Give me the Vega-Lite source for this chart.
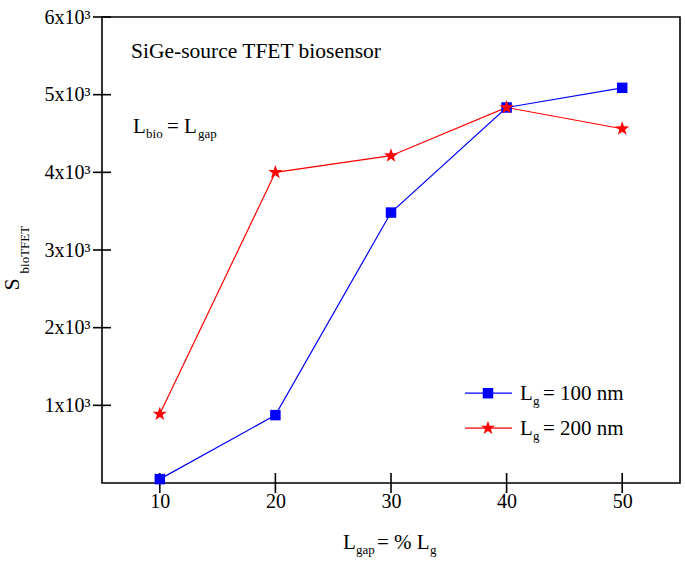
{
  "$schema": "https://vega.github.io/schema/vega-lite/v6.json",
  "width": 578,
  "height": 466,
  "autosize": {"type": "none"},
  "padding": {"left": 102, "top": 17, "right": 5, "bottom": 81},
  "background": "white",
  "config": {
    "view": {"stroke": "#000000", "strokeWidth": 1.6},
    "font": "Liberation Serif, Times New Roman, Times, serif",
    "text": {"font": "Liberation Serif, Times New Roman, Times, serif", "color": "#000000"}
  },
  "datasets": {
    "dSeries": [
      {"series": "Lg = 100 nm", "x": 10, "y": 50},
      {"series": "Lg = 100 nm", "x": 20, "y": 874},
      {"series": "Lg = 100 nm", "x": 30, "y": 3482},
      {"series": "Lg = 100 nm", "x": 40, "y": 4835},
      {"series": "Lg = 100 nm", "x": 50, "y": 5088},
      {"series": "Lg = 200 nm", "x": 10, "y": 887},
      {"series": "Lg = 200 nm", "x": 20, "y": 4000},
      {"series": "Lg = 200 nm", "x": 30, "y": 4214},
      {"series": "Lg = 200 nm", "x": 40, "y": 4835},
      {"series": "Lg = 200 nm", "x": 50, "y": 4561}
    ],
    "dKey": [
      {"series": "Lg = 100 nm", "x": 36.4, "x2": 40.47, "xm": 38.39, "y": 1156},
      {"series": "Lg = 200 nm", "x": 36.4, "x2": 40.47, "xm": 38.39, "y": 707}
    ],
    "dXTicks": [
      {"x": 10, "y": 0}, {"x": 20, "y": 0}, {"x": 30, "y": 0}, {"x": 40, "y": 0}, {"x": 50, "y": 0}
    ],
    "dYTicks": [
      {"x": 5, "y": 1000}, {"x": 5, "y": 2000}, {"x": 5, "y": 3000},
      {"x": 5, "y": 4000}, {"x": 5, "y": 5000}, {"x": 5, "y": 6000}
    ],
    "dText": [
      {"role": "title", "text": "SiGe-source TFET biosensor", "x": 7.51, "y": 5474},
      {"role": "main", "text": "L", "x": 7.68, "y": 4510},
      {"role": "sub", "text": "bio", "x": 8.81, "y": 4510},
      {"role": "main", "text": "= L", "x": 10.62, "y": 4510},
      {"role": "sub", "text": "gap", "x": 13.3, "y": 4510},
      {"role": "main", "text": "L", "x": 25.85, "y": -848},
      {"role": "sub", "text": "gap", "x": 26.98, "y": -848},
      {"role": "main", "text": "= % L", "x": 28.79, "y": -848},
      {"role": "sub", "text": "g", "x": 33.38, "y": -848},
      {"role": "main", "text": "L", "x": 41.16, "y": 1066},
      {"role": "sub", "text": "g", "x": 42.29, "y": 1066},
      {"role": "main", "text": "= 100 nm", "x": 43.15, "y": 1066},
      {"role": "main", "text": "L", "x": 41.16, "y": 617},
      {"role": "sub", "text": "g", "x": 42.29, "y": 617},
      {"role": "main", "text": "= 200 nm", "x": 43.15, "y": 617},
      {"role": "ymain", "text": "S", "x": -2.18, "y": 2480},
      {"role": "ysub", "text": "bioTFET", "x": -1.31, "y": 2698}
    ]
  },
  "layer": [
    {
      "data": {"name": "dSeries"},
      "mark": {"type": "line", "strokeWidth": 1.2},
      "encoding": {
        "x": {
          "field": "x",
          "type": "quantitative",
          "scale": {"domain": [5, 55], "nice": false, "zero": false},
          "axis": {
            "values": [10, 20, 30, 40, 50],
            "title": null,
            "grid": false,
            "domain": false,
            "ticks": false,
            "labelFont": "Liberation Serif, Times New Roman, Times, serif",
            "labelFontSize": 20,
            "labelColor": "#000000",
            "labelPadding": 8
          }
        },
        "y": {
          "field": "y",
          "type": "quantitative",
          "scale": {"domain": [0, 6000], "nice": false, "zero": false},
          "axis": {
            "values": [1000, 2000, 3000, 4000, 5000, 6000],
            "labelExpr": "(datum.value / 1000) + 'x10³'",
            "title": null,
            "grid": false,
            "domain": false,
            "ticks": false,
            "labelFont": "Liberation Serif, Times New Roman, Times, serif",
            "labelFontSize": 20,
            "labelColor": "#000000",
            "labelPadding": 12
          }
        },
        "color": {
          "field": "series",
          "type": "nominal",
          "scale": {"domain": ["Lg = 100 nm", "Lg = 200 nm"], "range": ["#0000ff", "#ff0000"]},
          "legend": null
        }
      }
    },
    {
      "data": {"name": "dXTicks"},
      "mark": {"type": "rule", "strokeWidth": 1.6, "color": "#000000", "yOffset": -10, "y2Offset": 10},
      "encoding": {
        "x": {"field": "x", "type": "quantitative"},
        "y": {"field": "y", "type": "quantitative"},
        "y2": {"field": "y"}
      }
    },
    {
      "data": {"name": "dYTicks"},
      "mark": {"type": "rule", "strokeWidth": 1.6, "color": "#000000", "xOffset": -9, "x2Offset": 9},
      "encoding": {
        "x": {"field": "x", "type": "quantitative"},
        "x2": {"field": "x"},
        "y": {"field": "y", "type": "quantitative"}
      }
    },
    {
      "data": {"name": "dSeries"},
      "transform": [{"filter": "datum.series === 'Lg = 100 nm'"}],
      "mark": {"type": "point", "shape": "square", "filled": true, "size": 110, "color": "#0000ff", "opacity": 1},
      "encoding": {
        "x": {"field": "x", "type": "quantitative"},
        "y": {"field": "y", "type": "quantitative"}
      }
    },
    {
      "data": {"name": "dSeries"},
      "transform": [{"filter": "datum.series === 'Lg = 200 nm'"}],
      "mark": {"type": "point", "shape": "M0,-1L0.235,-0.324L0.951,-0.309L0.38,0.124L0.588,0.809L0,0.4L-0.588,0.809L-0.38,0.124L-0.951,-0.309L-0.235,-0.324Z", "filled": true, "size": 220, "color": "#ff0000", "opacity": 1},
      "encoding": {
        "x": {"field": "x", "type": "quantitative"},
        "y": {"field": "y", "type": "quantitative"}
      }
    },
    {
      "data": {"name": "dKey"},
      "mark": {"type": "rule", "strokeWidth": 1.2},
      "encoding": {
        "x": {"field": "x", "type": "quantitative"},
        "x2": {"field": "x2"},
        "y": {"field": "y", "type": "quantitative"},
        "color": {"field": "series", "type": "nominal", "legend": null}
      }
    },
    {
      "data": {"name": "dKey"},
      "transform": [{"filter": "datum.series === 'Lg = 100 nm'"}],
      "mark": {"type": "point", "shape": "square", "filled": true, "size": 110, "color": "#0000ff", "opacity": 1},
      "encoding": {
        "x": {"field": "xm", "type": "quantitative"},
        "y": {"field": "y", "type": "quantitative"}
      }
    },
    {
      "data": {"name": "dKey"},
      "transform": [{"filter": "datum.series === 'Lg = 200 nm'"}],
      "mark": {"type": "point", "shape": "M0,-1L0.235,-0.324L0.951,-0.309L0.38,0.124L0.588,0.809L0,0.4L-0.588,0.809L-0.38,0.124L-0.951,-0.309L-0.235,-0.324Z", "filled": true, "size": 220, "color": "#ff0000", "opacity": 1},
      "encoding": {
        "x": {"field": "xm", "type": "quantitative"},
        "y": {"field": "y", "type": "quantitative"}
      }
    },
    {
      "data": {"name": "dText"},
      "transform": [{"filter": "datum.role === 'title'"}],
      "mark": {"type": "text", "align": "left", "baseline": "alphabetic", "fontSize": 21.5, "font": "Liberation Serif, Times New Roman, Times, serif"},
      "encoding": {
        "x": {"field": "x", "type": "quantitative"},
        "y": {"field": "y", "type": "quantitative"},
        "text": {"field": "text"}
      }
    },
    {
      "data": {"name": "dText"},
      "transform": [{"filter": "datum.role === 'main'"}],
      "mark": {"type": "text", "align": "left", "baseline": "alphabetic", "fontSize": 21, "font": "Liberation Serif, Times New Roman, Times, serif"},
      "encoding": {
        "x": {"field": "x", "type": "quantitative"},
        "y": {"field": "y", "type": "quantitative"},
        "text": {"field": "text"}
      }
    },
    {
      "data": {"name": "dText"},
      "transform": [{"filter": "datum.role === 'sub'"}],
      "mark": {"type": "text", "align": "left", "baseline": "alphabetic", "fontSize": 13, "dy": 5, "font": "Liberation Serif, Times New Roman, Times, serif"},
      "encoding": {
        "x": {"field": "x", "type": "quantitative"},
        "y": {"field": "y", "type": "quantitative"},
        "text": {"field": "text"}
      }
    },
    {
      "data": {"name": "dText"},
      "transform": [{"filter": "datum.role === 'ymain'"}],
      "mark": {"type": "text", "align": "left", "baseline": "alphabetic", "fontSize": 22, "angle": 270, "font": "Liberation Serif, Times New Roman, Times, serif"},
      "encoding": {
        "x": {"field": "x", "type": "quantitative"},
        "y": {"field": "y", "type": "quantitative"},
        "text": {"field": "text"}
      }
    },
    {
      "data": {"name": "dText"},
      "transform": [{"filter": "datum.role === 'ysub'"}],
      "mark": {"type": "text", "align": "left", "baseline": "alphabetic", "fontSize": 13, "angle": 270, "font": "Liberation Serif, Times New Roman, Times, serif"},
      "encoding": {
        "x": {"field": "x", "type": "quantitative"},
        "y": {"field": "y", "type": "quantitative"},
        "text": {"field": "text"}
      }
    }
  ]
}
